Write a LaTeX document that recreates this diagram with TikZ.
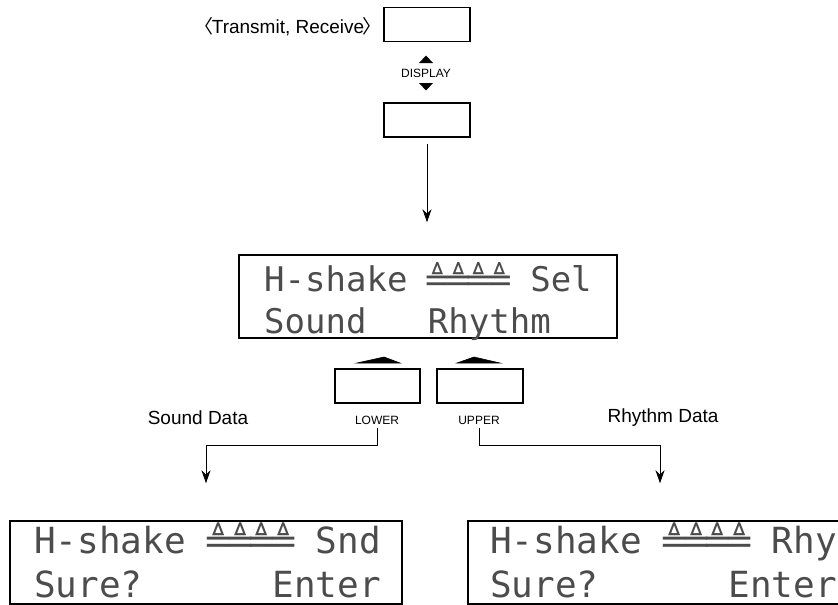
\documentclass[tikz,border=0pt]{standalone}
\usepackage{fontspec}
\setmainfont{Liberation Sans}
\newfontfamily\lcdfont{DejaVu Sans Mono}
\newfontfamily\symfont{DejaVu Sans}
\newfontfamily\cjkfont{Noto Sans CJK SC}
\usetikzlibrary{arrows.meta}
\newcommand{\lcdsym}{\makebox[0.602em]{\symfont\char"225C}}
\newcommand{\lcdsyms}{\lcdsym\lcdsym\lcdsym\lcdsym}
\tikzset{
  btn/.style={draw, line width=1.4pt, minimum width=86pt, minimum height=34pt, inner sep=0pt},
  lcdbox/.style={draw, line width=1.4pt, inner sep=0pt},
  lcdbig/.style={font=\lcdfont\fontsize{34}{34}\selectfont, text=black!70, inner sep=0pt, anchor=base west},
  lcdsmall/.style={font=\lcdfont\fontsize{36}{36}\selectfont, text=black!70, inner sep=0pt, anchor=base west},
  lbl/.style={font=\fontsize{19}{19}\selectfont, inner sep=0pt},
  tiny/.style={font=\fontsize{12}{12}\selectfont, inner sep=0pt},
  arr/.style={line width=1pt, -{Stealth[length=13pt, width=9pt]}},
  wedge/.style={fill=black, draw=black, line width=0.6pt}
}
\begin{document}
\begin{tikzpicture}[x=1pt, y=-1pt]
\useasboundingbox (0,0) rectangle (838,605);
% top buttons
\node[btn] (tx) at (427,24.5) {};
\node[lbl, anchor=east] (txlbl) at (373,27) {\kern-0.45em{\cjkfont 〈}\kern-0.1em Transmit, Receive\kern-0.1em{\cjkfont 〉}\kern-0.45em};
\node[tiny] (displbl) at (426,73) {DISPLAY};
\fill (419,63) -- (433,63) -- (426,55.5) -- cycle;
\fill (419,83) -- (433,83) -- (426,90.5) -- cycle;
\node[btn] (disp) at (427,120) {};
% main LCD
\node[lcdbox, minimum width=378pt, minimum height=83pt] (selbox) at (428,296.5) {};
\node[lcdbig] (sel1) at (264,291) {H-shake \lcdsyms{} Sel};
\node[lcdbig] (sel2) at (264,333) {Sound\ \ \ Rhythm};
\draw[arr] ([yshift=-6pt]disp.south) -- ([yshift=32pt]disp.south |- selbox.north);
% lower / upper buttons
\node[btn, minimum width=85pt] (lowbtn) at (377.5,386) {};
\node[btn] (upbtn) at (480,386) {};
\filldraw[wedge] (357,363) -- (400,363) -- (384,357) -- cycle;
\filldraw[wedge] (457,363) -- (500,363) -- (474,357) -- cycle;
\node[tiny] (lowlbl) at (377,420) {LOWER};
\node[tiny] (uplbl) at (479,420) {UPPER};
\node[lbl] (snddata) at (198,418) {Sound Data};
\node[lbl] (rhydata) at (663,418) {Rhythm Data};
% bottom LCDs
\node[lcdbox, minimum width=392pt, minimum height=83pt] (sndbox) at (206,562.5) {};
\node[lcdsmall] (snd1) at (34,553) {H-shake \lcdsyms{} Snd};
\node[lcdsmall] (snd2) at (34,597) {Sure?\ \ \ \ \ \ Enter};
\node[lcdbox, minimum width=384pt, minimum height=83pt] (rhybox) at (660,562.5) {};
\node[lcdsmall] (rhy1) at (490,553) {H-shake \lcdsyms{} Rhy};
\node[lcdsmall] (rhy2) at (490,597) {Sure?\ \ \ \ \ \ Enter};
\coordinate (lturn) at (206,445);
\coordinate (rturn) at (660,445);
\draw[line width=1pt] ([yshift=-4pt]lowlbl.south) |- (lturn);
\draw[arr] (lturn) -- ([yshift=37pt]sndbox.north);
\draw[line width=1pt] ([yshift=-4pt]uplbl.south) |- (rturn);
\draw[arr] (rturn) -- ([yshift=37pt]rhybox.north);
\end{tikzpicture}
\end{document}
